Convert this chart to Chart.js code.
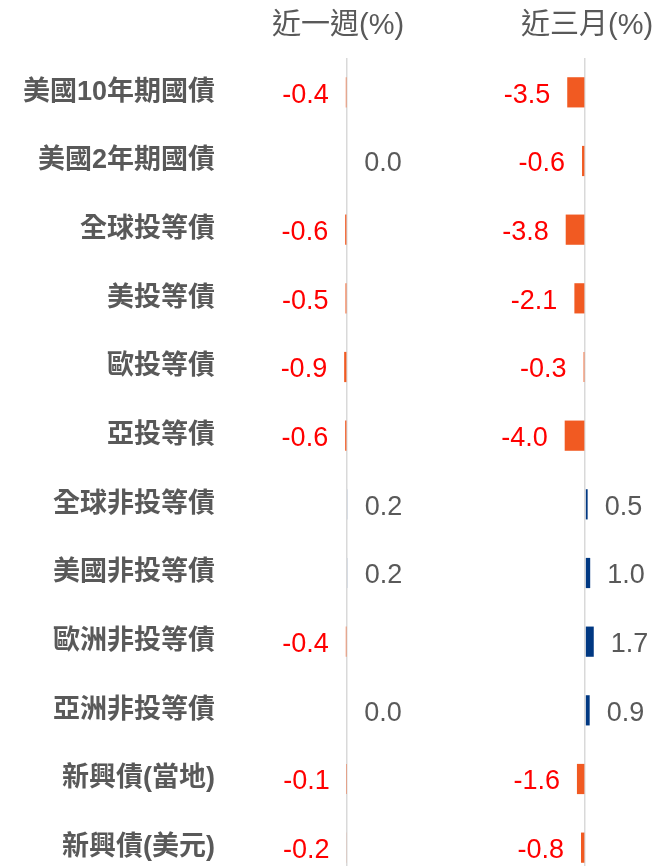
<html>
<head>
	<script src="https://cdn.jsdelivr.net/npm/chart.js@4/dist/chart.umd.min.js"></script>
	<style>
		body { margin: 0; overflow: hidden; background: #fff; }
	</style>
</head>
<body>
	<canvas id="myChart" width="656" height="882"></canvas>
</body>
<script>

const categories = ['美國10年期國債', '美國2年期國債', '全球投等債', '美投等債', '歐投等債', '亞投等債',
  '全球非投等債', '美國非投等債', '歐洲非投等債', '亞洲非投等債', '新興債(當地)', '新興債(美元)'];
const weekValues = [-0.4, 0.0, -0.6, -0.5, -0.9, -0.6, 0.2, 0.2, -0.4, 0.0, -0.1, -0.2];
const monthValues = [-3.5, -0.6, -3.8, -2.1, -0.3, -4.0, 0.5, 1.0, 1.7, 0.9, -1.6, -0.8];
const headers = ['近一週(%)', '近三月(%)'];

const NEG = 'rgb(241, 90, 34)';
const POS = 'rgb(0, 56, 130)';
const GREY = '#595959';
const FONT = '"Liberation Sans", "Noto Sans CJK TC", sans-serif';

const colorsFor = vals => vals.map(v => v < 0 ? NEG : POS);

// only one grid line, at zero
const zeroOnly = scale => { scale.ticks = [{ value: 0 }]; };
const noHeight = scale => { scale.height = 0; };

const valueLabels = {
  id: 'valueLabels',
  afterDatasetsDraw(chart) {
    const ctx = chart.ctx;
    ctx.save();
    ctx.font = '27px ' + FONT;
    ctx.textBaseline = 'middle';
    chart.data.datasets.forEach((ds, i) => {
      chart.getDatasetMeta(i).data.forEach((bar, j) => {
        const v = ds.data[j];
        const neg = v < 0;
        ctx.fillStyle = neg ? '#ff0000' : GREY;
        ctx.textAlign = neg ? 'right' : 'left';
        ctx.fillText(v.toFixed(1), bar.x + (neg ? -17 : 17), bar.y + 3);
      });
    });
    ctx.restore();
  }
};

const headerTitles = {
  id: 'headerTitles',
  afterDraw(chart) {
    const ctx = chart.ctx;
    ctx.save();
    ctx.font = '29px ' + FONT;
    ctx.fillStyle = GREY;
    ctx.textAlign = 'center';
    ctx.textBaseline = 'middle';
    ctx.fillText(headers[0], chart.scales.xw.getPixelForValue(0) - 9, 26);
    ctx.fillText(headers[1], chart.scales.xm.getPixelForValue(0) + 2, 26);
    ctx.restore();
  }
};

const data = {
  labels: categories,
  datasets: [
    {
      label: headers[0],
      data: weekValues,
      xAxisID: 'xw',
      backgroundColor: colorsFor(weekValues)
    },
    {
      label: headers[1],
      data: monthValues,
      xAxisID: 'xm',
      backgroundColor: colorsFor(monthValues)
    }
  ]
};

const config = {
  type: 'bar',
  data: data,
  options: {
    indexAxis: 'y',
    responsive: false,
    animation: false,
    grouped: false,
    categoryPercentage: 1,
    barPercentage: 0.44,
    layout: { padding: { top: 58, right: 0, bottom: 0, left: 0 } },
    plugins: {
      legend: { display: false },
      tooltip: { enabled: false }
    },
    scales: {
      y: {
        type: 'category',
        afterFit: s => { s.width = 228; s.paddingTop = 0; s.paddingBottom = 0; },
        grid: { display: false, drawTicks: false },
        border: { display: false },
        ticks: { color: GREY, padding: 13, font: { family: FONT, size: 27, weight: 'bold' } }
      },
      xw: {
        position: 'top',
        min: -36.1,
        max: 93.6,
        afterBuildTicks: zeroOnly,
        afterFit: noHeight,
        ticks: { display: false },
        border: { display: false },
        grid: { color: '#d9d9d9', lineWidth: 1.5, drawTicks: false }
      },
      xm: {
        position: 'bottom',
        min: -70,
        max: 13.9,
        afterBuildTicks: zeroOnly,
        afterFit: noHeight,
        ticks: { display: false },
        border: { display: false },
        grid: { color: '#d9d9d9', lineWidth: 1.5, drawTicks: false }
      }
    }
  },
  plugins: [valueLabels, headerTitles]
};
var ctx = document.getElementById('myChart');
var myChart = new Chart(ctx, config);

</script>
</html>
